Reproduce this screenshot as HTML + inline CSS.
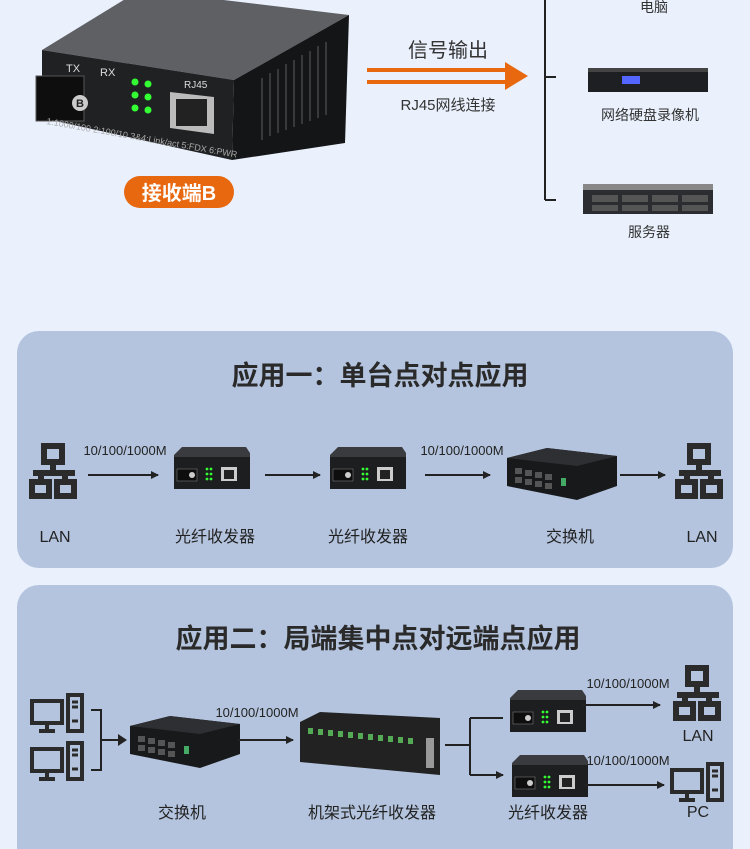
<!DOCTYPE html>
<html><head><meta charset="utf-8"><style>
html,body{margin:0;padding:0;background:#eaf1fd;}
svg{display:block;font-family:"Liberation Sans","Noto Sans CJK SC",sans-serif;}
</style></head><body>
<svg width="750" height="849" viewBox="0 0 750 849" xmlns="http://www.w3.org/2000/svg">
<defs>
<marker id="ah" markerWidth="8" markerHeight="8" refX="7" refY="4" orient="auto" markerUnits="userSpaceOnUse"><path d="M0,0 L8,4 L0,8 z" fill="#222"/></marker>
<g id="tr">
<path d="M0,8 L8,0 L72,0 L76,6 L76,42 L0,42 z" fill="#3a3b3e"/>
<rect x="0" y="10" width="76" height="32" fill="#1d1e20"/>
<rect x="3" y="22" width="20" height="12" fill="#0e0e0f" stroke="#777" stroke-width="0.6"/>
<circle cx="18" cy="28" r="3" fill="#ccc"/>
<circle cx="33" cy="22" r="1.4" fill="#3f3"/><circle cx="37" cy="22" r="1.4" fill="#3f3"/>
<circle cx="33" cy="27" r="1.4" fill="#3f3"/><circle cx="37" cy="27" r="1.4" fill="#3f3"/>
<circle cx="33" cy="32" r="1.4" fill="#3f3"/><circle cx="37" cy="32" r="1.4" fill="#3f3"/>
<rect x="47" y="20" width="16" height="14" fill="#ccc"/><rect x="50" y="23" width="10" height="9" fill="#222"/>
</g>
<g id="sw">
<path d="M0,10 L40,0 L110,8 L110,38 L70,52 L0,38 z" fill="#18191b"/>
<path d="M0,10 L40,0 L110,8 L70,18 z" fill="#2e2f32"/>
<g fill="#555"><rect x="8" y="20" width="7" height="6"/><rect x="18" y="22" width="7" height="6"/><rect x="28" y="24" width="7" height="6"/><rect x="38" y="26" width="7" height="6"/>
<rect x="8" y="29" width="7" height="6"/><rect x="18" y="31" width="7" height="6"/><rect x="28" y="33" width="7" height="6"/><rect x="38" y="35" width="7" height="6"/></g>
<rect x="54" y="30" width="5" height="8" fill="#4a6"/>
</g>
<g id="lan" fill="none" stroke="#2b2b2b" stroke-width="6">
<rect x="16" y="3" width="18" height="16"/><path d="M25,19 V30 M5,30 H47 M13,30 V38 M37,30 V38"/>
<rect x="4" y="39" width="17" height="14"/><rect x="29" y="39" width="17" height="14"/>
</g>
<g id="pc" fill="none" stroke="#2b2b2b" stroke-width="4">
<rect x="2" y="8" width="30" height="22"/><path d="M17,30 V38 M9,38 H25"/>
<rect x="38" y="2" width="14" height="36"/><path d="M42,9 H48 M42,14 H48 M42,28 H48" stroke-width="3"/>
</g>
</defs>

<!-- top big transceiver -->
<path d="M42,50 L140,-10 L349,15 L234,80 z" fill="#5e6064"/>
<path d="M234,80 L349,15 L345,143 L232,160 z" fill="#141516"/>
<g stroke="#38393c" stroke-width="2"><path d="M262,78 V140 M270,73 V136 M278,69 V133 M286,64 V130 M294,60 V127 M302,55 V124 M310,51 V121 M318,46 V118 M326,42 V115"/></g>
<path d="M42,50 L234,80 L232,160 L42,118 z" fill="#202123"/>
<text x="66" y="72" font-size="11" fill="#ddd">TX</text><text x="100" y="76" font-size="11" fill="#ddd">RX</text>
<text x="184" y="88" font-size="10" fill="#ddd">RJ45</text>
<rect x="36" y="76" width="48" height="45" fill="#0e0e0f" stroke="#555"/>
<circle cx="80" cy="103" r="8" fill="#ccc"/><text x="80" y="107" font-size="11" fill="#222" text-anchor="middle" font-weight="bold">B</text>
<g fill="#3f3"><circle cx="135" cy="82" r="3.5"/><circle cx="148" cy="84" r="3.5"/><circle cx="135" cy="95" r="3.5"/><circle cx="148" cy="97" r="3.5"/><circle cx="135" cy="108" r="3.5"/><circle cx="148" cy="110" r="3.5"/></g>
<path d="M170,92 L214,97 L214,134 L170,128 z" fill="#bbb"/><rect x="176" y="99" width="31" height="27" fill="#222"/>
<text x="46" y="124" font-size="9" fill="#aaa" transform="rotate(10 46 124)">1:1000/100 2:100/10 3&amp;4:Link/act 5:FDX 6:PWR</text>

<rect x="124" y="176" width="110" height="32" rx="16" fill="#e8680f"/>
<text x="179" y="200" font-size="20" font-weight="bold" fill="#fff" text-anchor="middle">接收端B</text>

<path d="M367,70 H515 M367,82 H515" stroke="#e8680f" stroke-width="4"/>
<path d="M505,62 L528,76 L505,90 z" fill="#e8680f"/>
<text x="448" y="57" font-size="20" fill="#333" text-anchor="middle">信号输出</text>
<text x="448" y="110" font-size="15" fill="#333" text-anchor="middle">RJ45网线连接</text>

<path d="M545,0 V200 M545,77 H556 M545,200 H556" stroke="#222" stroke-width="2" fill="none"/>
<text x="654" y="12" font-size="14" fill="#333" text-anchor="middle">电脑</text>
<rect x="588" y="68" width="120" height="24" fill="#1e1f22"/><rect x="588" y="68" width="120" height="4" fill="#444"/>
<rect x="622" y="76" width="18" height="8" fill="#56f"/>
<text x="650" y="120" font-size="14" fill="#333" text-anchor="middle">网络硬盘录像机</text>
<rect x="583" y="184" width="130" height="30" fill="#2b2d30"/><rect x="583" y="184" width="130" height="6" fill="#888"/>
<g fill="#555"><rect x="592" y="195" width="26" height="7"/><rect x="622" y="195" width="26" height="7"/><rect x="652" y="195" width="26" height="7"/><rect x="682" y="195" width="26" height="7"/><rect x="592" y="205" width="26" height="6"/><rect x="622" y="205" width="26" height="6"/><rect x="652" y="205" width="26" height="6"/><rect x="682" y="205" width="26" height="6"/></g>
<text x="649" y="237" font-size="14" fill="#333" text-anchor="middle">服务器</text>

<!-- panel 1 -->
<rect x="17" y="331" width="716" height="237" rx="22" fill="#b4c4de"/>
<text x="380" y="385" font-size="27" font-weight="bold" fill="#2a2a2a" text-anchor="middle">应用一：单台点对点应用</text>
<use href="#lan" x="28" y="443"/><use href="#lan" x="674" y="443"/>
<text x="125" y="455" font-size="13" fill="#222" text-anchor="middle">10/100/1000M</text>
<text x="462" y="455" font-size="13" fill="#222" text-anchor="middle">10/100/1000M</text>
<g stroke="#222" stroke-width="2" marker-end="url(#ah)"><path d="M88,475 H158"/><path d="M265,475 H320"/><path d="M425,475 H490"/><path d="M620,475 H665"/></g>
<use href="#tr" x="174" y="447"/><use href="#tr" x="330" y="447"/>
<use href="#sw" x="507" y="448"/>
<g font-size="16" fill="#222" text-anchor="middle"><text x="55" y="542">LAN</text><text x="215" y="542">光纤收发器</text><text x="368" y="542">光纤收发器</text><text x="570" y="542">交换机</text><text x="702" y="542">LAN</text></g>

<!-- panel 2 -->
<rect x="17" y="585" width="716" height="300" rx="22" fill="#b4c4de"/>
<text x="378" y="648" font-size="27" font-weight="bold" fill="#2a2a2a" text-anchor="middle">应用二：局端集中点对远端点应用</text>
<use href="#pc" x="30" y="693"/><use href="#pc" x="30" y="741"/>
<path d="M91,710 H101 V770 H91 M101,740 H125" stroke="#222" stroke-width="2" fill="none"/>
<path d="M118,734 L127,740 L118,746 z" fill="#222"/>
<use href="#sw" x="130" y="716"/>
<text x="257" y="717" font-size="13" fill="#222" text-anchor="middle">10/100/1000M</text>
<path d="M238,740 H293" stroke="#222" stroke-width="2" marker-end="url(#ah)"/>
<path d="M300,722 L320,712 L440,718 L440,775 L300,762 z" fill="#222"/>
<g fill="#5a5"><rect x="308" y="728" width="5" height="6"/><rect x="318" y="729" width="5" height="6"/><rect x="328" y="730" width="5" height="6"/><rect x="338" y="731" width="5" height="6"/><rect x="348" y="732" width="5" height="6"/><rect x="358" y="733" width="5" height="6"/><rect x="368" y="734" width="5" height="6"/><rect x="378" y="735" width="5" height="6"/><rect x="388" y="736" width="5" height="6"/><rect x="398" y="737" width="5" height="6"/><rect x="408" y="738" width="5" height="6"/></g>
<rect x="426" y="738" width="8" height="30" fill="#999"/>
<path d="M445,745 H470 M470,718 V775" stroke="#222" stroke-width="2" fill="none"/>
<path d="M470,718 H503 M470,775 H503" stroke="#222" stroke-width="2" marker-end="url(#ah)"/>
<use href="#tr" x="510" y="690"/><use href="#tr" x="512" y="755"/>
<text x="628" y="688" font-size="13" fill="#222" text-anchor="middle">10/100/1000M</text>
<text x="628" y="765" font-size="13" fill="#222" text-anchor="middle">10/100/1000M</text>
<path d="M582,705 H660" stroke="#222" stroke-width="2" marker-end="url(#ah)"/>
<path d="M584,785 H664" stroke="#222" stroke-width="2" marker-end="url(#ah)"/>
<use href="#lan" x="672" y="665"/>
<use href="#pc" x="670" y="762"/>
<g font-size="16" fill="#222" text-anchor="middle"><text x="698" y="741">LAN</text><text x="698" y="817">PC</text><text x="182" y="818">交换机</text><text x="372" y="818">机架式光纤收发器</text><text x="548" y="818">光纤收发器</text></g>
</svg>
</body></html>
